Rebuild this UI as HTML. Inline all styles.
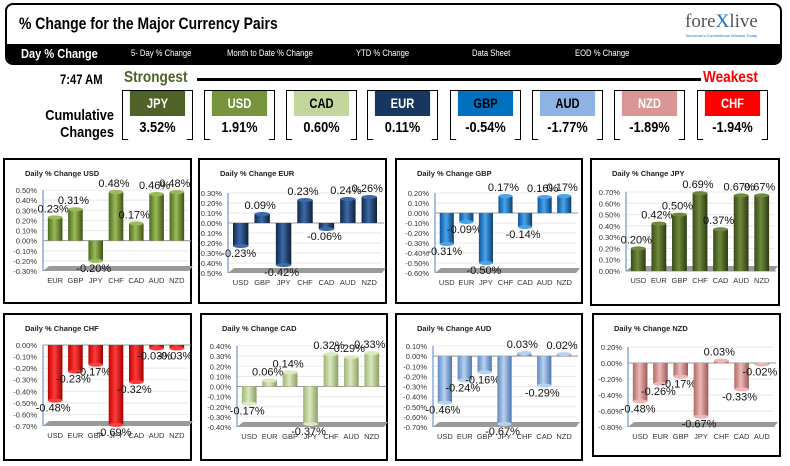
<!DOCTYPE html>
<html><head><meta charset="utf-8"><style>
body{margin:0;width:790px;height:466px;background:#fff;font-family:"Liberation Sans",sans-serif;position:relative;overflow:hidden}
.abs{position:absolute}
.hdr{left:5px;top:3px;width:773px;height:58px;border:2px solid #000;border-radius:8px;overflow:hidden;background:#fff}
.nav{left:0;top:39px;width:773px;height:21px;background:#000}
.nav span{position:absolute;top:4px;color:#fff;font-size:9px;transform:scaleX(.85);transform-origin:left}
.box{width:71px;height:50px;border:1px solid #000;box-sizing:border-box}
.box .h{height:25px;font-weight:bold;font-size:14px;text-align:center;line-height:25px;transform:scaleX(.8)}
.box .v{height:24px;background:#fff;font-weight:bold;font-size:15px;text-align:center;line-height:24px;transform:scaleX(.85)}
</style></head><body>
<div class="abs hdr">
 <div class="abs" style="left:12px;top:9px;font-weight:bold;font-size:17px;transform:scaleX(.82);transform-origin:left;white-space:nowrap">% Change for the Major Currency Pairs</div>
 <div class="abs" style="left:678px;top:6px;font-family:'Liberation Serif',serif;font-size:19px;color:#555">fore<span style="color:#1a6fc0">X</span>live</div>
 <div class="abs" style="left:678px;top:28px;font-size:4px;color:#1a6fc0;width:80px">Tomorrow's Conventional Wisdom Today</div>
 <div class="abs nav">
  <span style="left:14px;top:2px;font-size:13px;font-weight:bold">Day % Change</span>
  <span style="left:124px">5- Day % Change</span>
  <span style="left:220px">Month to Date % Change</span>
  <span style="left:349px">YTD % Change</span>
  <span style="left:465px">Data Sheet</span>
  <span style="left:568px">EOD % Change</span>
 </div>
</div>
<div class="abs" style="left:60px;top:71px;font-weight:bold;font-size:14px;transform:scaleX(.8);transform-origin:left">7:47 AM</div>
<div class="abs" style="left:124px;top:69px;font-weight:bold;font-size:16px;color:#4f6228;transform:scaleX(.85);transform-origin:left">Strongest</div>
<div class="abs" style="left:197px;top:78px;width:504px;height:3px;background:#000"></div>
<div class="abs" style="left:703px;top:69px;font-weight:bold;font-size:16px;color:#f00;transform:scaleX(.85);transform-origin:left">Weakest</div>
<div class="abs" style="left:20px;top:107px;width:94px;text-align:right;font-weight:bold;font-size:15px;line-height:17px;transform:scaleX(.85);transform-origin:right">Cumulative<br>Changes</div>
<div id="boxes"></div>
<script>
const boxCur=['JPY','USD','CAD','EUR','GBP','AUD','NZD','CHF'];
const boxVals=['3.52%','1.91%','0.60%','0.11%','-0.54%','-1.77%','-1.89%','-1.94%'];
const boxBg=['#4f6228','#77933c','#c3d69b','#17375e','#0070c0','#8db3e2','#d99694','#ff0000'];
const boxFg=['#fff','#fff','#000','#fff','#000','#000','#fff','#fff'];
const bx=[122,204,286,367,450,532,614,697];
const bw=document.getElementById('boxes');
boxCur.forEach((c,i)=>{
 const d=document.createElement('div');d.className='abs box';d.style.left=bx[i]+'px';d.style.top='90px';
 
 
 d.innerHTML='<div class="h" style="background:'+boxBg[i]+';color:'+boxFg[i]+'">'+c+'</div><div class="v">'+boxVals[i]+'</div>';
 bw.appendChild(d);
});

const titles=['USD','EUR','GBP','JPY','CHF','CAD','AUD','NZD'];
const cats=[['EUR','GBP','JPY','CHF','CAD','AUD','NZD'],['USD','GBP','JPY','CHF','CAD','AUD','NZD'],['USD','EUR','JPY','CHF','CAD','AUD','NZD'],['USD','EUR','GBP','CHF','CAD','AUD','NZD'],['USD','EUR','GBP','JPY','CAD','AUD','NZD'],['USD','EUR','GBP','JPY','CHF','AUD','NZD'],['USD','EUR','GBP','JPY','CHF','CAD','NZD'],['USD','EUR','GBP','JPY','CHF','CAD','AUD']];
const vals=[[0.23,0.31,-0.20,0.48,0.17,0.46,0.48],[-0.23,0.09,-0.42,0.23,-0.06,0.24,0.26],[-0.31,-0.09,-0.50,0.17,-0.14,0.16,0.17],[0.20,0.42,0.50,0.69,0.37,0.67,0.67],[-0.48,-0.23,-0.17,-0.69,-0.32,-0.03,-0.03],[-0.17,0.06,0.14,-0.37,0.32,0.29,0.33],[-0.46,-0.24,-0.16,-0.67,0.03,-0.29,0.02],[-0.48,-0.26,-0.17,-0.67,0.03,-0.33,-0.02]];
const tickMin=[-0.3,-0.5,-0.6,0,-0.7,-0.4,-0.7,-0.8];
const tickMax=[0.5,0.3,0.2,0.7,0,0.4,0.1,0.2];
const tickStep=[0.1,0.1,0.1,0.1,0.1,0.1,0.1,0.2];
const colors=[['#4e6a1c','#9bbb59','#3d5214'],['#10284a','#3d6aa8','#0d1f3a'],['#0a55a0','#4aa3e8','#064077'],['#3a4a1c','#6f8a3a','#2c3a12'],['#c00000','#ff3b3b','#a00000'],['#9fb577','#dbe8c0','#8aa060'],['#5f8ac0','#b8d1f0','#4c76ad'],['#b06a68','#ecb8b6','#9e5a58']];

const PX=[3,198,395,590,3,200,395,592],PY=[158,158,158,158,313,313,313,313],PW=[189,189,188,190,189,188,188,189],PH=[146,146,146,148,148,148,148,144];
const AX=[43,228,435,626,43,237,433,628],YT=[190,193,193,192,345,346,346,347],YB=[271,273,273,271,426,427,427,427],XE=[185,378,572,770,185,380,572,770];

const NS='http://www.w3.org/2000/svg';
const svg=document.createElementNS(NS,'svg');
svg.setAttribute('width',790);svg.setAttribute('height',466);
svg.style.position='absolute';svg.style.left='0';svg.style.top='0';
document.body.appendChild(svg);
function el(t,a,p){const e=document.createElementNS(NS,t);for(const k in a)e.setAttribute(k,a[k]);(p||svg).appendChild(e);return e;}
const defs=el('defs',{});
colors.forEach((c,i)=>{const g=el('linearGradient',{id:'g'+i,x1:0,x2:1,y1:0,y2:0},defs);
 el('stop',{offset:0,'stop-color':c[0]},g);el('stop',{offset:0.45,'stop-color':c[1]},g);el('stop',{offset:1,'stop-color':c[2]},g);});

titles.forEach((t,i)=>{
 const p=el('rect',{x:PX[i]+1,y:PY[i]+1,width:PW[i]-2,height:PH[i]-2,fill:'#fff',stroke:'#000','stroke-width':2});
 
 
 const tt=el('text',{x:PX[i]+22,y:PY[i]+18,'font-size':7.5,'font-weight':'bold',fill:'#222'});tt.textContent='Daily % Change '+t;
 
 
 const mn=tickMin[i],mx=tickMax[i];
 const y=v=>YB[i]-(v-mn)/(mx-mn)*(YB[i]-YT[i]);
 const slot=(XE[i]-AX[i])/cats[i].length;
 const x=k=>AX[i]+slot*(k+0.5)+2;
 const n=Math.round((mx-mn)/tickStep[i]);
 for(let k=0;k<=n;k++){const v=mn+k*tickStep[i];const yy=y(v);
  if(k>0) el('line',{x1:AX[i],x2:XE[i]+4,y1:yy,y2:yy,stroke:'#e8e8e8','stroke-width':1});
  const tl=el('text',{x:AX[i]-6,y:yy+3,'font-size':7.5,'text-anchor':'end',fill:'#333'});tl.textContent=v.toFixed(2)+'%';
  
  
 }
 const fl=el('polygon',{points:`${AX[i]},${YB[i]} ${AX[i]+6},${YB[i]-5} ${XE[i]+8},${YB[i]-5} ${XE[i]+4},${YB[i]} `,fill:'#9a9a9a'});
 
 
 el('line',{x1:AX[i],x2:AX[i],y1:YT[i],y2:YB[i],stroke:'#4f81bd','stroke-width':1});
 const y0=y(0);
 el('line',{x1:AX[i],x2:XE[i]+6,y1:y0,y2:y0,stroke:'#999','stroke-width':1});
 const bwid=slot*0.72;
 vals[i].forEach((v,k)=>{
  const cx=x(k),yv=y(v),top=Math.min(yv,y0),h=Math.abs(yv-y0);
  const b=el('rect',{x:cx-bwid/2,y:top,width:bwid,height:Math.max(h,1.5),fill:'url(#g'+i+')'});
  
  
  el('ellipse',{cx:cx,cy:yv,rx:bwid/2,ry:2,fill:colors[i][1]});
  const lb=el('text',{x:cx-2,y:v>=0?yv-5:yv+11,'font-size':11,'text-anchor':'middle',fill:'#111'});lb.textContent=v.toFixed(2)+'%';
  
  
  const cl=el('text',{x:cx,y:YB[i]+12,'font-size':7.5,'text-anchor':'middle',fill:'#333'});cl.textContent=cats[i][k];
  
  
 });
});
</script>
</body></html>
